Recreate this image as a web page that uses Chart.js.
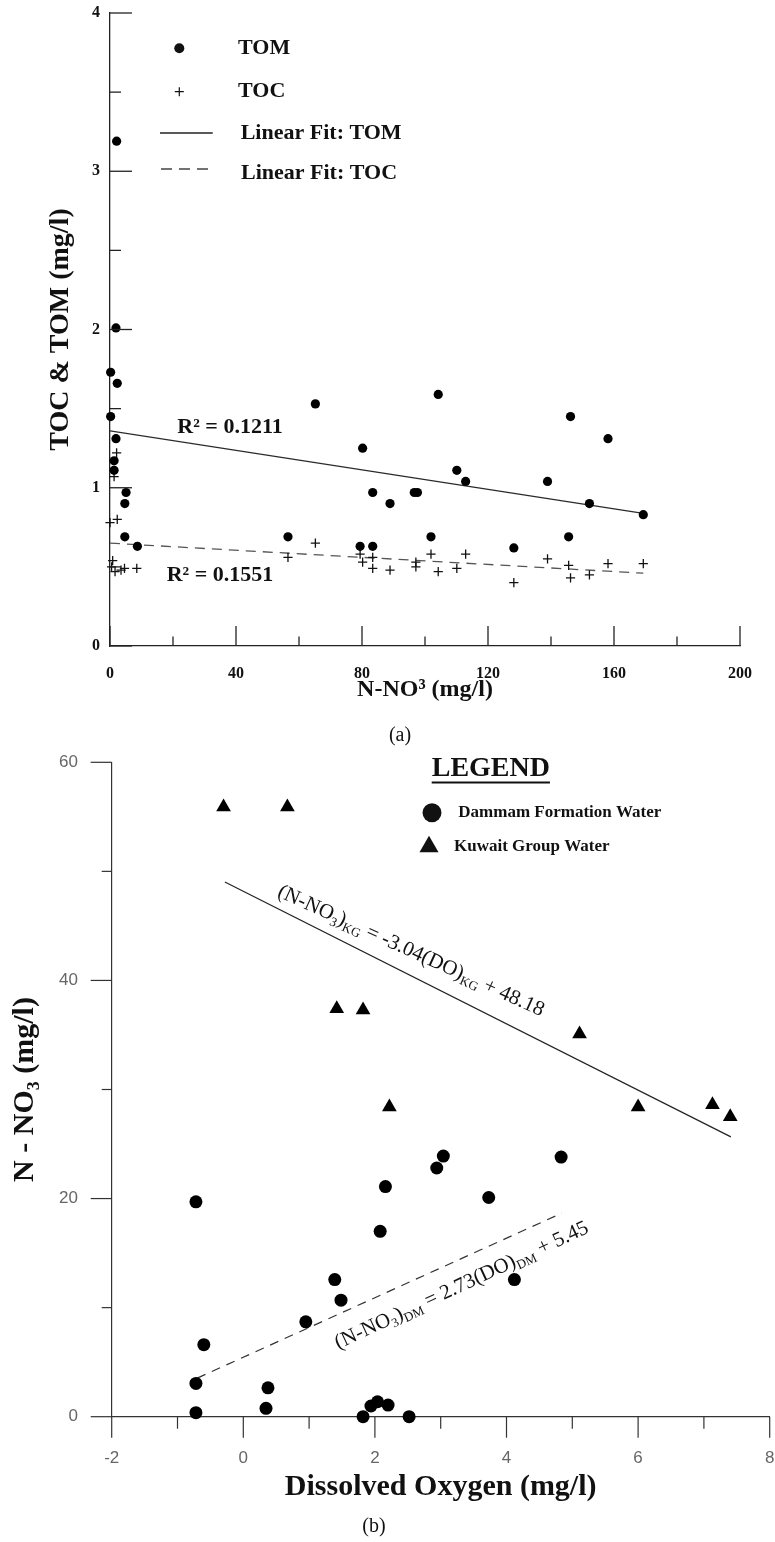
<!DOCTYPE html>
<html>
<head>
<meta charset="utf-8">
<script src="https://cdn.jsdelivr.net/npm/chart.js@4.4.1/dist/chart.umd.min.js"></script>
<style>
  html, body { margin: 0; padding: 0; background: #fff; }
  #page { position: relative; width: 775px; height: 1542px; overflow: hidden; background: #fff; }
  #page canvas { position: absolute; left: 0; }
  .cap { position: absolute; font-family: 'Liberation Serif', serif; font-size: 20px; color: #111;
         transform: translate(-50%, -50%); line-height: 1; white-space: nowrap; }
</style>
</head>
<body>
<div id="page">
  <canvas id="chartA" width="775" height="750" style="top:0px"></canvas>
  <div class="cap" style="left:400px; top:734px;">(a)</div>
  <canvas id="chartB" width="775" height="792" style="top:750px"></canvas>
  <div class="cap" style="left:374px; top:1525px;">(b)</div>
</div>
<script>
// ---------- Panel (a): TOC & TOM against nitrate ----------
const tomNO3 = [2.1, 1.9, 0.2, 2.3, 0.2, 1.9, 1.3, 1.3, 5.1, 4.7, 4.7, 8.7,
                56.5, 65.2, 80.2, 79.4, 83.4, 83.4, 88.9, 96.6, 97.6, 104.2, 101.9, 110.1, 112.9,
                128.2, 138.9, 146.2, 145.6, 152.2, 158.1, 169.3];
const tomVal = [3.19, 2.01, 1.73, 1.66, 1.45, 1.31, 1.17, 1.11, 0.97, 0.90, 0.69, 0.63,
                0.69, 1.53, 1.25, 0.63, 0.63, 0.97, 0.90, 0.97, 0.97, 1.59, 0.69, 1.11, 1.04,
                0.62, 1.04, 1.45, 0.69, 0.90, 1.31, 0.83];
const tocNO3 = [2.1, 1.3, 0.0, 2.3, 0.85, 0.5, 1.6, 3.5, 4.6, 8.5,
                56.5, 65.2, 79.4, 80.2, 83.4, 83.4, 88.9, 97.1, 97.1, 101.9, 104.2, 110.1, 112.9,
                128.2, 138.9, 145.6, 146.2, 152.2, 158.1, 169.3];
const tocVal = [1.22, 1.07, 0.78, 0.80, 0.54, 0.50, 0.47, 0.48, 0.49, 0.49,
                0.56, 0.65, 0.58, 0.53, 0.56, 0.49, 0.48, 0.53, 0.50, 0.58, 0.47, 0.49, 0.58,
                0.40, 0.55, 0.51, 0.43, 0.45, 0.52, 0.52];
const tomFitX = [0, 169.3];
const tomFitY = [1.36, 0.838];
const tocFitX = [0, 169.3];
const tocFitY = [0.65, 0.46];
const r2Values = ['0.1211', '0.1551'];
const xTicksA = [0, 40, 80, 120, 160, 200];
const yTicksA = [0, 1, 2, 3, 4];

// ---------- Panel (b): nitrate against dissolved oxygen ----------
const dammamDO  = [-0.72, -0.60, -0.72, -0.72, 0.375, 0.345, 0.95, 1.39, 1.485, 1.82, 1.94, 2.04, 2.20, 2.52,
                   2.08, 2.16, 2.94, 3.04, 3.73, 4.83, 4.12];
const dammamNO3 = [19.7, 6.6, 3.05, 0.37, 2.65, 0.77, 8.7, 12.57, 10.68, 0.0, 0.98, 1.37, 1.07, 0.0,
                   17.0, 21.1, 22.8, 23.9, 20.1, 23.8, 12.57];
const kuwaitDO  = [-0.30, 0.67, 1.42, 1.82, 2.22, 5.11, 6.00, 7.13, 7.40];
const kuwaitNO3 = [55.9, 55.9, 37.4, 37.3, 28.4, 35.1, 28.4, 28.6, 27.5];
const kgFitCoef  = [-3.04, 48.18];   // slope, intercept
const kgFitRange = [-0.28, 7.41];
const dmFitCoef  = [2.73, 5.45];
const dmFitRange = [-0.70, 4.84];
const xTicksB = [-2, 0, 2, 4, 6, 8];
const yTicksB = [0, 20, 40, 60];

const SERIF = "'Liberation Serif', 'Times New Roman', serif";
const SANS = "'Liberation Sans', Arial, sans-serif";

const pts = (xs, ys) => xs.map((x, i) => ({ x, y: ys[i] }));
const fitPts = (coef, range) => range.map(x => ({ x, y: coef[0] * x + coef[1] }));

// Invisible built-in tick marks only set the gap between the axis and its labels
const spacer = len => ({ display: true, drawOnChartArea: false, drawTicks: true,
                         tickLength: len, tickColor: 'rgba(0,0,0,0)' });

// Visible tick marks with separate major/minor lengths, placed at the scale's own ticks
const tickMarks = {
  id: 'tickMarks',
  afterDraw(chart, args, o) {
    const ctx = chart.ctx;
    ctx.save();
    ctx.strokeStyle = o.color;
    ctx.lineWidth = o.width;
    ['x', 'y'].forEach(id => {
      const s = chart.scales[id];
      const cfg = o[id];
      s.ticks.forEach(t => {
        const q = t.value / cfg.majorStep;
        const major = Math.abs(q - Math.round(q)) < 1e-6;
        const len = major ? cfg.major : cfg.minor;
        const p = s.getPixelForValue(t.value);
        ctx.beginPath();
        if (id === 'x') { ctx.moveTo(p, s.top); ctx.lineTo(p, s.top + cfg.dir * len); }
        else { ctx.moveTo(s.right, p); ctx.lineTo(s.right + cfg.dir * len, p); }
        ctx.stroke();
      });
    });
    ctx.restore();
  }
};

// Text with subscripts, centred at (x, y) and rotated by ang
function drawRich(ctx, segs, x, y, ang, size) {
  const nf = `${size}px ${SERIF}`;
  const sf = `${Math.round(size * 0.62)}px ${SERIF}`;
  let w = 0;
  segs.forEach(([t, k]) => { ctx.font = k === 's' ? sf : nf; w += ctx.measureText(t).width; });
  ctx.save();
  ctx.translate(x, y);
  ctx.rotate(ang);
  ctx.textAlign = 'left';
  ctx.textBaseline = 'alphabetic';
  ctx.fillStyle = '#111';
  let cx = -w / 2;
  const base = size * 0.33;
  segs.forEach(([t, k]) => {
    ctx.font = k === 's' ? sf : nf;
    ctx.fillText(t, cx, k === 's' ? base + size * 0.2 : base);
    cx += ctx.measureText(t).width;
  });
  ctx.restore();
}

// Legend box and R² notes for panel (a)
const notesA = {
  id: 'notesA',
  afterDatasetsDraw(chart) {
    const ctx = chart.ctx;
    const xs = chart.scales.x, ys = chart.scales.y;
    ctx.save();
    ctx.fillStyle = '#111';
    ctx.strokeStyle = '#111';
    ctx.beginPath(); ctx.arc(179.3, 48.3, 5, 0, Math.PI * 2); ctx.fill();
    ctx.lineWidth = 1.2;
    ctx.beginPath();
    ctx.moveTo(174.8, 91.7); ctx.lineTo(183.8, 91.7);
    ctx.moveTo(179.3, 87.2); ctx.lineTo(179.3, 96.2);
    ctx.stroke();
    ctx.lineWidth = 1.3;
    ctx.strokeStyle = '#222';
    ctx.beginPath(); ctx.moveTo(160, 133); ctx.lineTo(212.7, 133); ctx.stroke();
    ctx.setLineDash([11, 7]);
    ctx.strokeStyle = '#444';
    ctx.beginPath(); ctx.moveTo(161, 169); ctx.lineTo(215, 169); ctx.stroke();
    ctx.setLineDash([]);
    ctx.font = `bold 22px ${SERIF}`;
    ctx.textAlign = 'left';
    ctx.textBaseline = 'middle';
    ctx.fillText('TOM', 238, 48);
    ctx.fillText('TOC', 238, 91);
    ctx.fillText('Linear Fit: TOM', 240.7, 133);
    ctx.fillText('Linear Fit: TOC', 241, 173);
    ctx.font = `bold 22px ${SERIF}`;
    ctx.textAlign = 'center';
    ctx.fillText('R\u00B2 = ' + r2Values[0], xs.getPixelForValue(38.1), ys.getPixelForValue(1.385));
    ctx.fillText('R\u00B2 = ' + r2Values[1], xs.getPixelForValue(34.9), ys.getPixelForValue(0.449));
    ctx.restore();
  }
};

// Legend and regression equations for panel (b)
const notesB = {
  id: 'notesB',
  afterDatasetsDraw(chart) {
    const ctx = chart.ctx;
    const xs = chart.scales.x, ys = chart.scales.y;
    ctx.save();
    ctx.fillStyle = '#111';
    ctx.font = `bold 28px ${SERIF}`;
    ctx.textAlign = 'left';
    ctx.textBaseline = 'middle';
    ctx.fillText('LEGEND', 431.7, 19);
    const lw = ctx.measureText('LEGEND').width;
    ctx.fillRect(431.7, 31.5, lw, 2);
    ctx.beginPath(); ctx.arc(432, 62.7, 9.5, 0, Math.PI * 2); ctx.fill();
    const r = 11, tx = 429, ty = 96.7;
    ctx.beginPath();
    ctx.moveTo(tx, ty - r);
    ctx.lineTo(tx + r * 0.866, ty + r * 0.5);
    ctx.lineTo(tx - r * 0.866, ty + r * 0.5);
    ctx.closePath(); ctx.fill();
    ctx.font = `bold 17px ${SERIF}`;
    ctx.fillText('Dammam Formation Water', 458.3, 63);
    ctx.fillText('Kuwait Group Water', 454, 97);
    ctx.restore();

    const fmt = v => v.toFixed(2);
    const kg = [['(N-NO', 'n'], ['3', 's'], [')', 'n'], ['KG', 's'],
                [' = ' + fmt(kgFitCoef[0]) + '(DO)', 'n'], ['KG', 's'], [' + ' + fmt(kgFitCoef[1]), 'n']];
    const dm = [['(N-NO', 'n'], ['3', 's'], [')', 'n'], ['DM', 's'],
                [' = ' + fmt(dmFitCoef[0]) + '(DO)', 'n'], ['DM', 's'], [' + ' + fmt(dmFitCoef[1]), 'n']];
    drawRich(ctx, kg, xs.getPixelForValue(2.556), ys.getPixelForValue(42.8), 24.5 * Math.PI / 180, 21);
    drawRich(ctx, dm, xs.getPixelForValue(3.31), ys.getPixelForValue(12.14), -25 * Math.PI / 180, 21);
  }
};

Chart.defaults.font.family = SERIF;
Chart.defaults.color = '#111';

new Chart(document.getElementById('chartA'), {
  type: 'scatter',
  data: {
    datasets: [
      { label: 'TOM', data: pts(tomNO3, tomVal), pointStyle: 'circle', pointRadius: 4.6,
        backgroundColor: '#000', borderColor: '#000', borderWidth: 0, clip: false },
      { label: 'TOC', data: pts(tocNO3, tocVal), pointStyle: 'cross', pointRadius: 4.6,
        borderColor: '#111', borderWidth: 1.3, clip: false },
      { label: 'Linear Fit: TOM', data: pts(tomFitX, tomFitY), showLine: true, pointRadius: 0,
        borderColor: '#2a2a2a', borderWidth: 1.3 },
      { label: 'Linear Fit: TOC', data: pts(tocFitX, tocFitY), showLine: true, pointRadius: 0,
        borderColor: '#555', borderWidth: 1.3, borderDash: [10, 7] }
    ]
  },
  options: {
    responsive: false,
    animation: false,
    events: [],
    devicePixelRatio: 1,
    layout: { autoPadding: false, padding: { left: 0, top: 13, right: 35, bottom: 0 } },
    plugins: {
      legend: { display: false },
      tooltip: { enabled: false },
      tickMarks: {
        color: '#222', width: 1.3,
        x: { dir: -1, major: 20, minor: 9.5, majorStep: 40 },
        y: { dir: 1, major: 22, minor: 11, majorStep: 1 }
      }
    },
    scales: {
      x: {
        type: 'linear', min: 0, max: 200,
        ticks: { stepSize: 20, autoSkip: false, maxRotation: 0, padding: 0, color: '#111',
                 font: { family: SERIF, size: 16, weight: 'bold' },
                 callback: v => xTicksA.includes(v) ? String(v) : '' },
        grid: spacer(18),
        border: { display: true, color: '#222', width: 1.3 },
        title: { display: true, text: 'N-NO\u00B3 (mg/l)', color: '#111',
                 font: { family: SERIF, size: 24, weight: 'bold' }, padding: { top: 0, bottom: 45.6 } },
        afterFit: s => { s.height = 104; }
      },
      y: {
        type: 'linear', min: 0, max: 4,
        ticks: { stepSize: 0.5, autoSkip: false, padding: 0, color: '#111',
                 font: { family: SERIF, size: 16, weight: 'bold' },
                 callback: v => yTicksA.includes(v) ? String(v) : '' },
        grid: spacer(10),
        border: { display: true, color: '#222', width: 1.3 },
        title: { display: true, text: 'TOC & TOM (mg/l)', color: '#111',
                 font: { family: SERIF, size: 28, weight: 'bold' }, padding: { top: 44.2, bottom: 0 } },
        afterFit: s => { s.width = 110; }
      }
    }
  },
  plugins: [tickMarks, notesA]
});

new Chart(document.getElementById('chartB'), {
  type: 'scatter',
  data: {
    datasets: [
      { label: 'Dammam Formation Water', data: pts(dammamDO, dammamNO3), pointStyle: 'circle',
        pointRadius: 6.5, backgroundColor: '#000', borderColor: '#000', borderWidth: 0, clip: false },
      { label: 'Kuwait Group Water', data: pts(kuwaitDO, kuwaitNO3), pointStyle: 'triangle',
        pointRadius: 8.5, backgroundColor: '#000', borderColor: '#000', borderWidth: 0, clip: false },
      { label: 'KG fit', data: fitPts(kgFitCoef, kgFitRange), showLine: true, pointRadius: 0,
        borderColor: '#222', borderWidth: 1.2 },
      { label: 'DM fit', data: fitPts(dmFitCoef, dmFitRange), showLine: true, pointRadius: 0,
        borderColor: '#333', borderWidth: 1.2, borderDash: [9, 7] }
    ]
  },
  options: {
    responsive: false,
    animation: false,
    events: [],
    devicePixelRatio: 1,
    layout: { autoPadding: false, padding: { left: 0, top: 12.3, right: 5.3, bottom: 0 } },
    plugins: {
      legend: { display: false },
      tooltip: { enabled: false },
      tickMarks: {
        color: '#333', width: 1.2,
        x: { dir: 1, major: 21, minor: 12, majorStep: 2 },
        y: { dir: -1, major: 21, minor: 10, majorStep: 20 }
      }
    },
    scales: {
      x: {
        type: 'linear', min: -2, max: 8,
        ticks: { stepSize: 1, autoSkip: false, maxRotation: 0, padding: 0, color: '#666',
                 font: { family: SANS, size: 17 },
                 callback: v => xTicksB.includes(v) ? String(v) : '' },
        grid: spacer(31.1),
        border: { display: true, color: '#333', width: 1.2 },
        title: { display: true, text: 'Dissolved Oxygen (mg/l)', color: '#111',
                 font: { family: SERIF, size: 30, weight: 'bold' }, padding: { top: 0, bottom: 37 } },
        afterFit: s => { s.height = 125.3; }
      },
      y: {
        type: 'linear', min: 0, max: 60,
        ticks: { stepSize: 10, autoSkip: false, padding: 0, color: '#666',
                 font: { family: SANS, size: 17 },
                 callback: v => yTicksB.includes(v) ? String(v) : '' },
        grid: spacer(33.7),
        border: { display: true, color: '#333', width: 1.2 },
        title: { display: true, text: 'N - NO\u2083 (mg/l)', color: '#111',
                 font: { family: SERIF, size: 30, weight: 'bold' }, padding: { top: 7, bottom: 0 } },
        afterFit: s => { s.width = 111.7; }
      }
    }
  },
  plugins: [tickMarks, notesB]
});
</script>
</body>
</html>
